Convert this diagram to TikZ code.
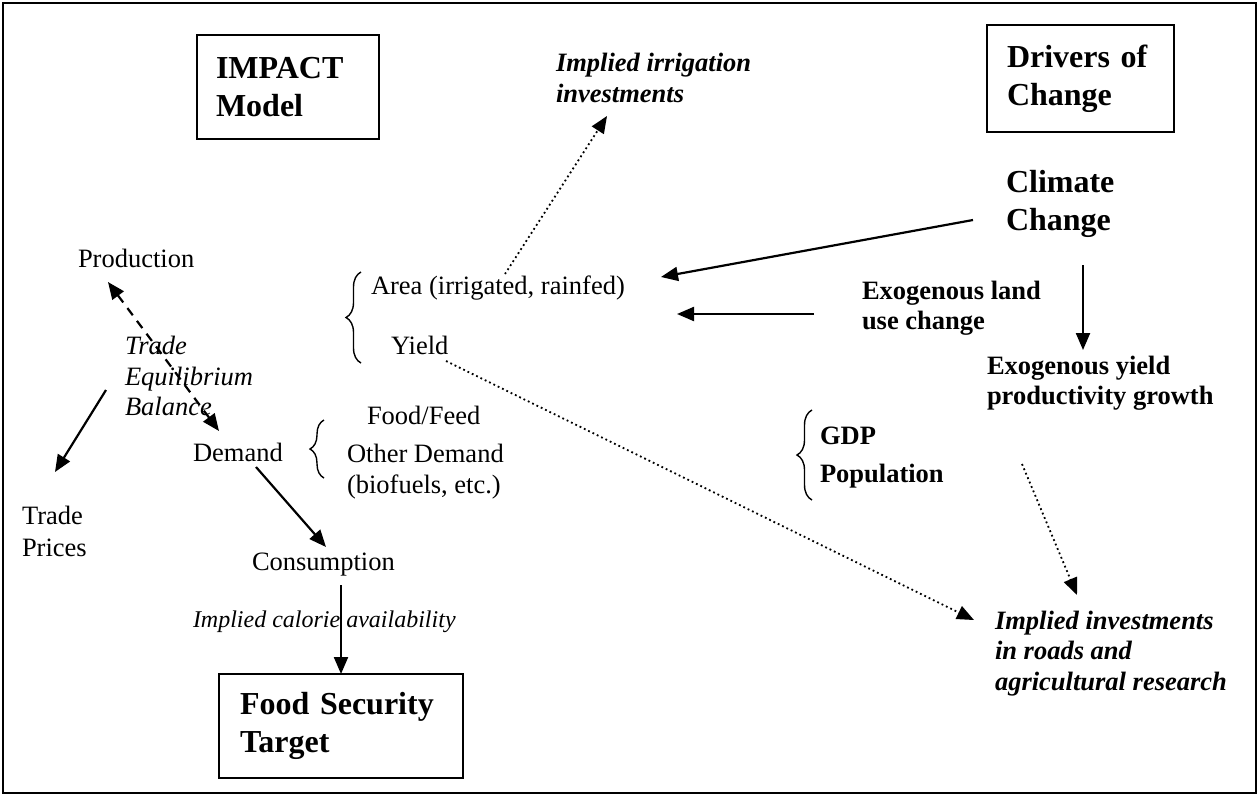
\documentclass[tikz,border=0pt]{standalone}
\usepackage{fontspec}
\setmainfont{Liberation Serif}
\usetikzlibrary{arrows.meta,decorations.pathreplacing}
\begin{document}
\begin{tikzpicture}[x=1pt,y=-1pt,
  txt/.style={anchor=west, inner sep=0pt, outer sep=0pt, align=left, font=\fontsize{26.5}{31}\selectfont},
  itx/.style={txt, font=\fontsize{26.5}{30.5}\selectfont\itshape},
  bdx/.style={txt, font=\fontsize{26.5}{30}\selectfont\bfseries},
  bix/.style={txt, font=\fontsize{26.5}{31}\selectfont\bfseries\itshape},
  bigx/.style={txt, font=\fontsize{32}{38}\selectfont\bfseries},
  boxst/.style={draw, line width=1.8pt, anchor=north west, outer sep=0pt, inner ysep=0pt, align=left, font=\fontsize{32}{38}\selectfont\bfseries},
  tip/.style={Triangle[length=17pt,width=14pt]},
  arr/.style={line width=2.2pt, -{Triangle[length=17pt,width=14pt]}},
  dotarr/.style={line width=1.8pt, dash pattern=on 1.8pt off 3pt, -{Triangle[length=17pt,width=14pt]}},
  dasharr/.style={line width=2.2pt, dash pattern=on 9pt off 7pt, {Triangle[length=17pt,width=14pt]}-{Triangle[length=17pt,width=14pt]}},
  brc/.style={line width=1.4pt, decorate, decoration={brace, amplitude=#1}}
]
\useasboundingbox (0,0) rectangle (1260,796);
\draw[line width=2pt] (3,3) rectangle (1256,793);

% boxes
\node[boxst, text width=144pt, inner xsep=19pt, minimum height=104pt] (impact) at (197,35) {IMPACT\\Model};
\node[boxst, text width=147pt, inner xsep=20pt, minimum height=107pt] (drivers) at (987,25) {Drivers of\\Change};
\node[boxst, text width=202pt, inner xsep=21pt, minimum height=104pt] (fst) at (219,674) {Food Security\\Target};

% texts
\node[txt] (production) at (78,258) {Production};
\node[itx] (tradeeq) at (125,376) {Trade\\Equilibrium\\Balance};
\node[txt, font=\fontsize{26.5}{32}\selectfont] (prices) at (22,531) {Trade\\Prices};
\node[txt] (demand) at (193,452) {Demand};
\node[txt] (foodfeed) at (367,415) {Food/Feed};
\node[txt] (otherdem) at (347,471.5) {Other Demand\\(biofuels, etc.)};
\node[txt] (consumption) at (252,565) {Consumption};
\node[txt, font=\fontsize{24}{28}\selectfont\itshape] (calorie) at (193,622) {Implied calorie availability};
\node[txt] (area) at (371,288) {Area (irrigated, rainfed)};
\node[txt] (yield) at (391,345) {Yield};
\node[bix] (irrig) at (556,77.5) {Implied irrigation\\investments};
\node[bigx] (climate) at (1006,204) {Climate\\Change};
\node[bdx] (exland) at (862,308) {Exogenous land\\use change};
\node[bdx] (exyield) at (987,383) {Exogenous yield\\productivity growth};
\node[bdx] (gdp) at (820,436) {GDP};
\node[bdx] (population) at (820,476) {Population};
\node[bix, font=\fontsize{26.5}{30.5}\selectfont\bfseries\itshape] (roads) at (995,653.5) {Implied investments\\in roads and\\agricultural research};

% braces
\draw[brc=15pt] (361,363) -- (361,272);
\draw[brc=14pt] (324,478) -- (324,420);
\draw[brc=15pt] (812,500) -- (812,410);

% connector end points
\coordinate (a1) at (505,274);
\coordinate (a1e) at (607,116);
\coordinate (c1) at (973,220);
\coordinate (c1e) at (661,277);
\coordinate (l1) at (814,314);
\coordinate (l1e) at (677,314);
\coordinate (y1) at (1083,265);
\coordinate (y1e) at (1083,350);
\coordinate (yl1) at (446,361);
\coordinate (yl1e) at (974,620);
\coordinate (g1) at (1022,464);
\coordinate (g1e) at (1077,595);
\coordinate (p1) at (108,282);
\coordinate (d1) at (219,431);
\coordinate (t1) at (106,390);
\coordinate (t1e) at (55,472);
\coordinate (dm1) at (256,467);
\coordinate (cs1) at (326,547);
\coordinate (cs2) at (341,585);

% connectors
\draw[dotarr] (a1) -- (a1e);
\draw[arr] (c1) -- (c1e);
\draw[arr] (l1) -- (l1e);
\draw[arr] (y1) -- (y1e);
\draw[dotarr] (yl1) -- (yl1e);
\draw[dotarr] (g1) -- (g1e);
\draw[dasharr] (p1) -- (d1);
\draw[arr] (t1) -- (t1e);
\draw[arr] (dm1) -- (cs1);
\draw[arr] (cs2) -- (fst.north);
\end{tikzpicture}
\end{document}
